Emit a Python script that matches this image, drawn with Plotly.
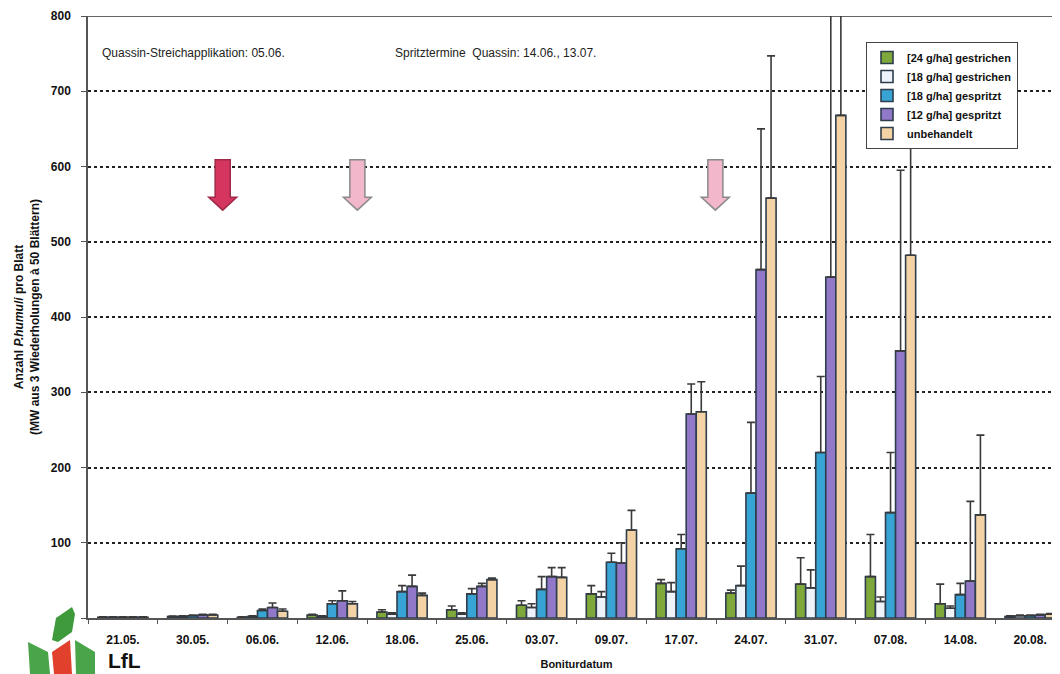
import plotly.graph_objects as go

dates = ["21.05.", "30.05.", "06.06.", "12.06.", "18.06.", "25.06.", "03.07.",
         "09.07.", "17.07.", "24.07.", "31.07.", "07.08.", "14.08.", "20.08."]

series_names = ["[24 g/ha] gestrichen", "[18 g/ha] gestrichen", "[18 g/ha] gespritzt",
                "[12 g/ha] gespritzt", "unbehandelt"]

g24_gestrichen = [1, 2, 1, 4, 8, 11, 17, 32, 46, 33, 45, 55, 19, 2]
g24_gestrichen_top = [1.5, 2.5, 1.5, 5, 11, 16, 23, 43, 51, 37, 80, 111, 45, 3]

g18_gestrichen = [1, 2, 2, 2, 5, 5, 14, 28, 35, 43, 40, 22, 13, 3]
g18_gestrichen_top = [1.5, 3, 3, 3, 7, 7, 19, 35, 47, 69, 64, 28, 16, 4]

g18_gespritzt = [1, 3, 10, 19, 35, 32, 38, 74, 92, 166, 220, 140, 31, 3]
g18_gespritzt_top = [1.5, 4, 12, 23, 43, 39, 55, 86, 111, 260, 321, 220, 46, 4]

g12_gespritzt = [1, 4, 14, 23, 42, 42, 55, 73, 271, 463, 453, 355, 49, 4]
g12_gespritzt_top = [1.5, 5, 20, 36, 57, 46, 67, 100, 311, 650, 900, 595, 155, 5]

unbehandelt = [1, 4, 9, 19, 30, 51, 54, 117, 274, 558, 668, 482, 137, 5]
unbehandelt_top = [1.5, 5, 12, 22, 33, 53, 67, 143, 314, 747, 900, 690, 243, 6]

colors = ["#7fa83a", "#eef3fa", "#38a4d6", "#9278c8", "#f3d3a6"]

y_ticks = [0, 100, 200, 300, 400, 500, 600, 700, 800]

# application arrows: category-index position and colour
arrow_pos = [1.43, 3.36, 8.49]
arrow_fill = ["#d4365f", "#f2b7cb", "#f2b7cb"]
arrow_line = ["#a02848", "#8a8a8a", "#8a8a8a"]

values = [g24_gestrichen, g18_gestrichen, g18_gespritzt, g12_gespritzt, unbehandelt]
tops = [g24_gestrichen_top, g18_gestrichen_top, g18_gespritzt_top, g12_gespritzt_top, unbehandelt_top]

FONT = "Liberation Sans, Arial, sans-serif"
# page is rendered with an 8px body offset; margins compensate for it
ML, MR, MT, MB = 80, 3, 8, 64
PLOT_W = 1060 - ML - MR
PLOT_H = 674 - MT - MB

fig = go.Figure()
for name, vals, tp, col in zip(series_names, values, tops, colors):
    fig.add_trace(go.Bar(
        x=dates, y=vals, name=name,
        marker=dict(color=col, line=dict(color="#2e3d4c", width=1.6)),
        error_y=dict(type="data", symmetric=False,
                     array=[t - v for t, v in zip(tp, vals)],
                     arrayminus=[0] * len(vals),
                     color="#3a3a3a", thickness=1.6, width=4),
    ))

shapes = []
# top border line
shapes.append(dict(type="line", xref="paper", yref="y", x0=0, x1=1, y0=800, y1=800,
                   line=dict(color="#333", width=1.5)))
# arrows
for xc, fc, lc in zip(arrow_pos, arrow_fill, arrow_line):
    sw, hw = 0.108, 0.2
    path = (f"M {xc - sw},609 L {xc + sw},609 L {xc + sw},559 L {xc + hw},559 "
            f"L {xc},542 L {xc - hw},559 L {xc - sw},559 Z")
    shapes.append(dict(type="path", xref="x", yref="y", path=path,
                       fillcolor=fc, line=dict(color=lc, width=1.5), layer="above"))


# page pixel -> paper helpers
def px(xp):
    return (xp - 8 - ML) / PLOT_W


def py(yp):
    return (MT + PLOT_H - (yp - 8)) / PLOT_H


def leaf(pts, color):
    p = "M " + " L ".join(f"{px(a)},{py(b)}" for a, b in pts) + " Z"
    return dict(type="path", xref="paper", yref="paper", path=p,
                fillcolor=color, line=dict(width=0), layer="above")


shapes.append(leaf([(52, 640), (56, 618), (72, 607), (75, 614), (72, 632), (58, 642)], "#3f9a3c"))
shapes.append(leaf([(28, 642), (48, 652), (50, 674), (30, 674)], "#4aa44a"))
shapes.append(leaf([(52, 652), (70, 640), (72, 674), (54, 674)], "#e0402c"))
shapes.append(leaf([(75, 640), (95, 652), (95, 674), (76, 674)], "#4aa44a"))

annotations = [
    dict(text="Quassin-Streichapplikation: 05.06.", xref="paper", yref="paper",
         x=px(100), y=py(53), xanchor="left", yanchor="middle", showarrow=False,
         font=dict(family=FONT, size=12, color="#222")),
    dict(text="Spritztermine  Quassin: 14.06., 13.07.", xref="paper", yref="paper",
         x=px(393), y=py(53), xanchor="left", yanchor="middle", showarrow=False,
         font=dict(family=FONT, size=12, color="#222")),
    dict(text="<b>LfL</b>", xref="paper", yref="paper",
         x=px(106), y=py(674), xanchor="left", yanchor="bottom", showarrow=False,
         font=dict(family=FONT, size=21, color="#111")),
]

fig.update_layout(
    width=1060, height=674,
    margin=dict(l=ML, r=MR, t=MT, b=MB),
    paper_bgcolor="white", plot_bgcolor="white",
    barmode="group", bargap=0.28, bargroupgap=0,
    font=dict(family=FONT, color="#111"),
    showlegend=True,
    legend=dict(x=px(866), y=py(42), xanchor="left", yanchor="top",
                bgcolor="white", bordercolor="#444", borderwidth=1,
                font=dict(family=FONT, size=11, color="#111", weight="bold"),
                itemwidth=30, tracegroupgap=0),
    xaxis=dict(type="category", tickson="boundaries", ticks="outside", ticklen=4,
               tickcolor="#555", showline=True, linecolor="#555", linewidth=1.5,
               showgrid=False, automargin=False,
               tickfont=dict(family=FONT, size=12, color="#111", weight="bold"),
               ticklabelstandoff=10,
               title=dict(text="<b>Boniturdatum</b>", font=dict(family=FONT, size=11, color="#111"),
                          standoff=14)),
    yaxis=dict(range=[0, 800], tickvals=y_ticks, ticks="outside", ticklen=5, tickcolor="#555",
               showline=True, linecolor="#555", linewidth=1.5, automargin=False,
               showgrid=True, gridcolor="#222", griddash="dot", gridwidth=1.6,
               zeroline=False, ticklabelstandoff=8,
               tickfont=dict(family=FONT, size=12, color="#111", weight="bold"),
               title=dict(text="<b>Anzahl <i>P.humuli</i> pro Blatt<br>(MW aus 3 Wiederholungen à 50 Blättern)</b>",
                          font=dict(family=FONT, size=12, color="#111"), standoff=9)),
    shapes=shapes,
    annotations=annotations,
)

fig.write_html("out.html")
